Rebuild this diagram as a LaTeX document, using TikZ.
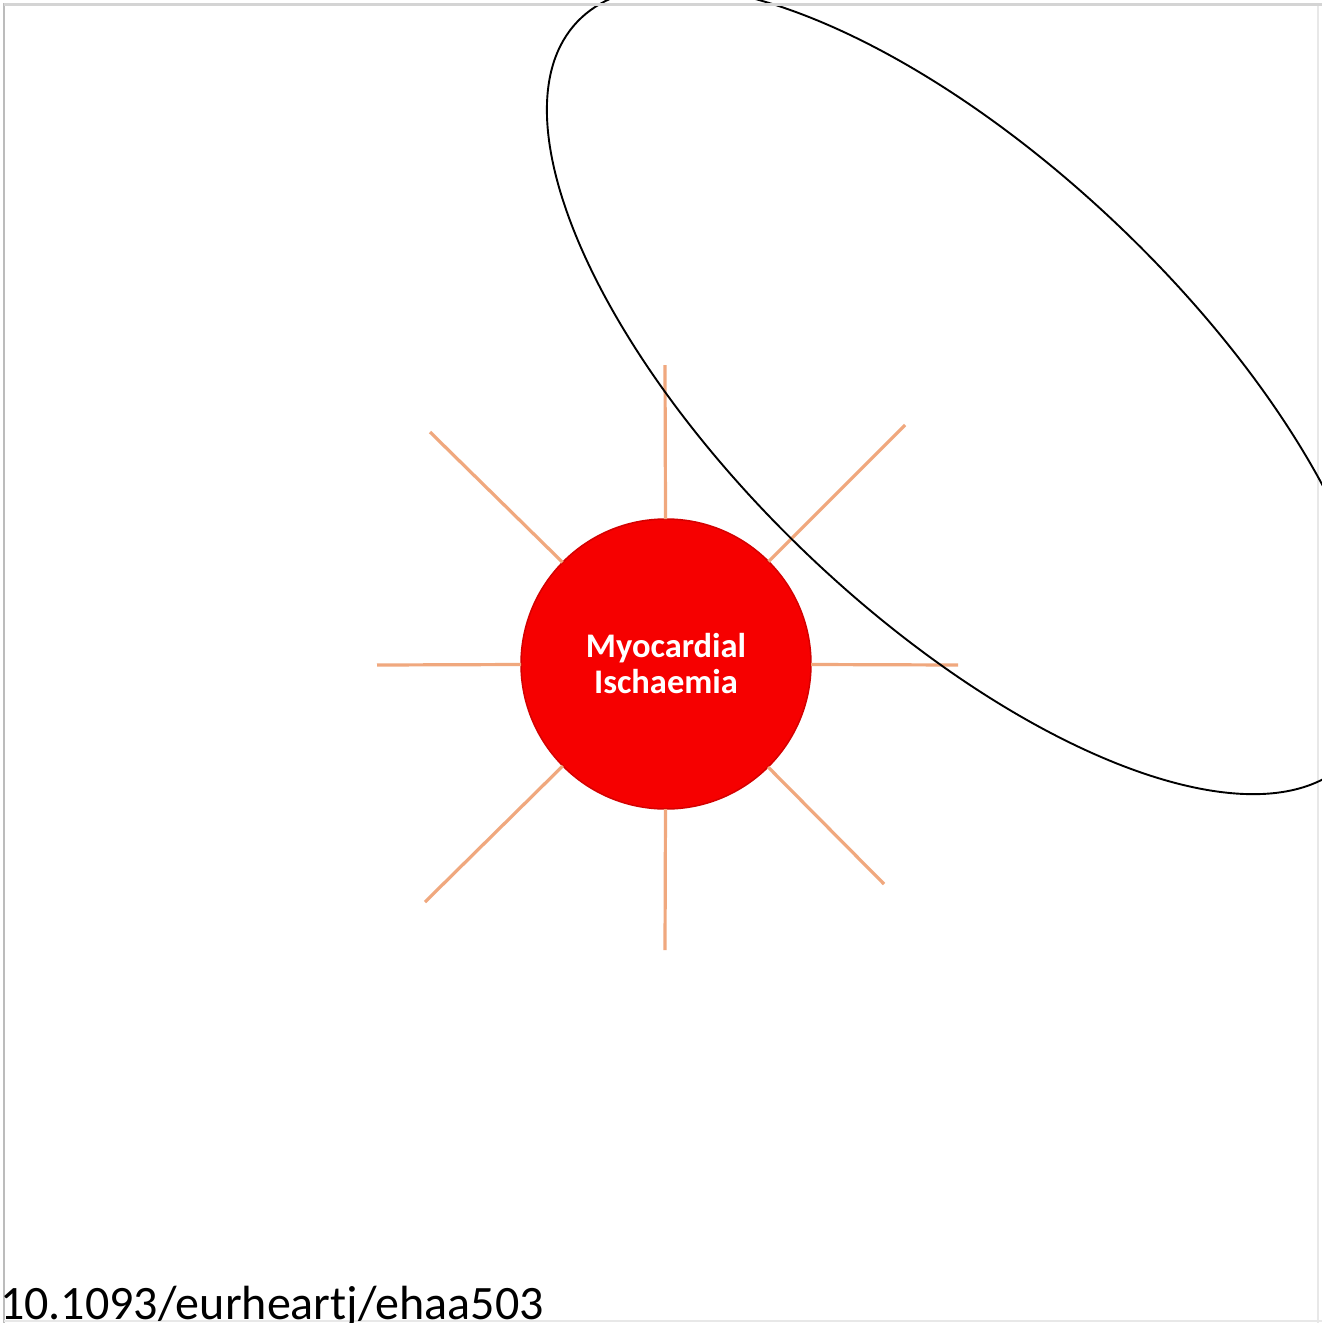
\documentclass[tikz,border=0pt]{standalone}
\usepackage{fontspec}
\setmainfont{Carlito}
\usetikzlibrary{shapes.geometric}
\definecolor{spokecol}{RGB}{240,168,126}
\definecolor{hubred}{RGB}{246,0,0}
\definecolor{hubrim}{RGB}{212,0,0}
\definecolor{frameA}{RGB}{188,188,188}
\definecolor{frameB}{RGB}{212,212,212}
\definecolor{frameC}{RGB}{232,232,232}
\begin{document}
\begin{tikzpicture}[x=1pt,y=-1pt,
  spokeline/.style={draw=spokecol, line width=3.2pt},
  hub/.style={circle, fill=hubred, draw=hubrim, line width=1.5pt,
    minimum size=290pt, inner sep=0pt, outer sep=0pt, text=white,
    font=\fontsize{34.5}{36}\selectfont\bfseries, align=center},
  ring/.style={ellipse, draw=black, line width=1.9pt, inner sep=0pt,
    minimum width=1068pt, minimum height=452.6pt},
  doi/.style={anchor=base west, inner sep=0pt, text=black,
    font=\fontsize{48}{52}\selectfont}
]
\useasboundingbox (0,0) rectangle (1322,1323);
\fill[white] (0,0) rectangle (1322,1323);
\clip (0,0) rectangle (1322,1323);
% frame
\draw[frameA, line width=2pt] (4,3) -- (4,1323);
\draw[frameC, line width=2pt] (1318,4) -- (1318,1323);
\draw[frameC, line width=2pt] (4,1321) -- (1322,1321);
% hub
\node[hub] (c) at (666,664) {Myocardial\\Ischaemia};
% spoke ends
\coordinate (n)  at (665,365);
\coordinate (s)  at (665,950);
\coordinate (w)  at (377,665);
\coordinate (e)  at (958,665);
\coordinate (nw) at (430,432);
\coordinate (ne) at (905,425);
\coordinate (sw) at (425,902);
\coordinate (se) at (884,884);
\foreach \p in {n,s,w,e,nw,ne,sw,se} \draw[spokeline] (c) -- (\p);
% ellipse
\node[ring, rotate=-43.7] (oval) at (963.5,390.5) {};
\draw[frameB, line width=3pt] (4,4.5) -- (1322,4.5);
% doi
\node[doi] (ref) at (0,1319) {10.1093/eurheartj/ehaa503};
\end{tikzpicture}
\end{document}
